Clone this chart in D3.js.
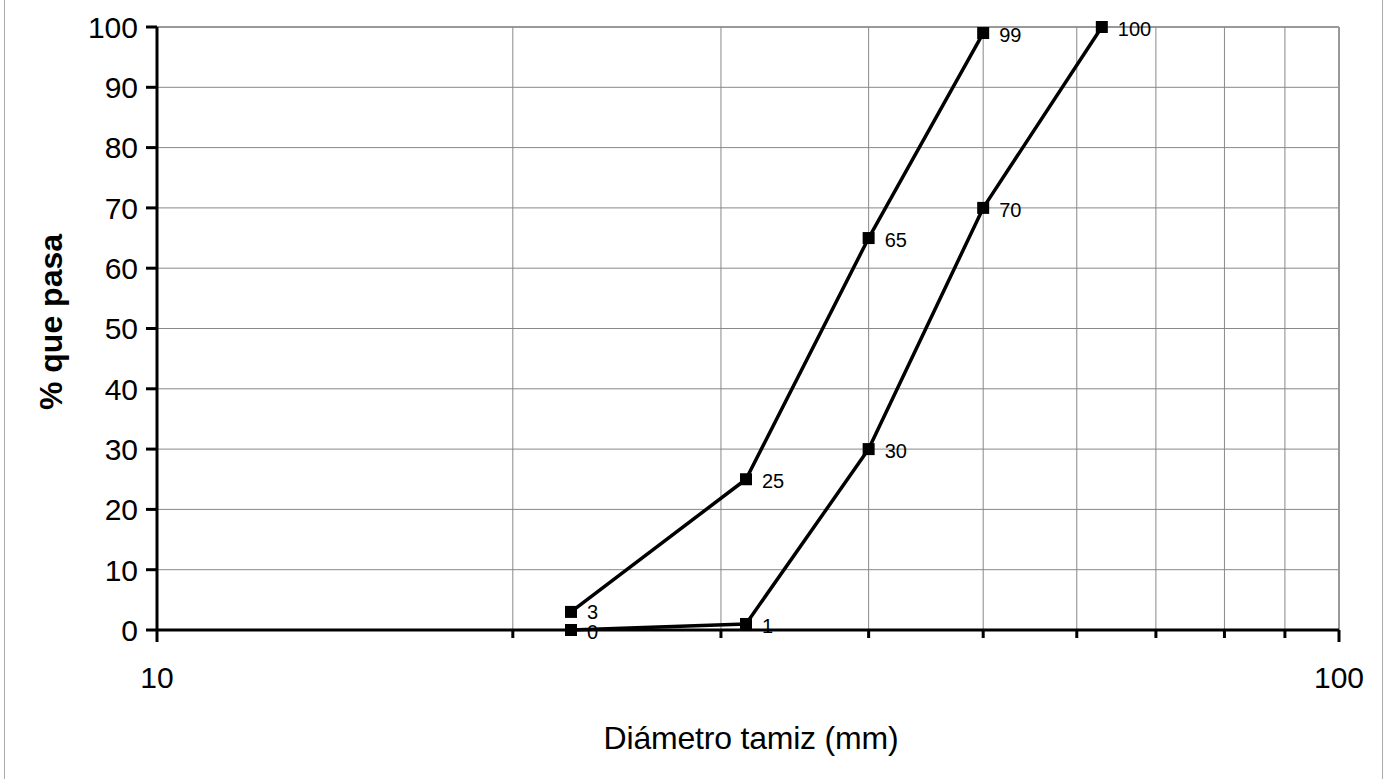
<!DOCTYPE html>
<html>
<head>
<meta charset="utf-8">
<script src="https://cdn.jsdelivr.net/npm/d3@7"></script>
<style>
  body { margin: 0; background: #fff; }
  text { font-family: "Liberation Sans", Arial, sans-serif; fill: #000; }
</style>
</head>
<body>
<div id="chart"></div>
<script>
//Data
const sievesA = [22.4, 31.5, 40, 50];
const passA = [3, 25, 65, 99];
const sievesB = [22.4, 31.5, 40, 50, 63];
const passB = [0, 1, 30, 70, 100];
const xGrid = [20, 30, 40, 50, 60, 70, 80, 90, 100];
const xTickLabels = [10, 100];
const yTicks = [0, 10, 20, 30, 40, 50, 60, 70, 80, 90, 100];

//Visual
const width = 1387;
const height = 779;
const plotLeft = 157, plotRight = 1339, plotTop = 27, plotBottom = 630;

const svg = d3.select('#chart')
  .append('svg')
  .attr('width', width)
  .attr('height', height);

// outer frame
svg.append('rect')
  .attr('x', 4.5).attr('y', -2)
  .attr('width', 1378).attr('height', height + 4)
  .attr('fill', 'none')
  .attr('stroke', '#aaa');

const x = d3.scaleLog().domain([10, 100]).range([plotLeft, plotRight]);
const y = d3.scaleLinear().domain([0, 100]).range([plotBottom, plotTop]);

// grid
svg.selectAll('line.hgrid')
  .data(yTicks.filter(d => d > 0))
  .enter().append('line')
  .attr('x1', plotLeft).attr('x2', plotRight)
  .attr('y1', d => y(d)).attr('y2', d => y(d))
  .attr('stroke', d => d === 100 ? '#999' : '#888')
  .attr('stroke-width', d => d === 100 ? 2 : 1);

svg.selectAll('line.vgrid')
  .data(xGrid)
  .enter().append('line')
  .attr('x1', d => x(d)).attr('x2', d => x(d))
  .attr('y1', plotTop).attr('y2', plotBottom)
  .attr('stroke', d => d === 100 ? '#999' : '#888')
  .attr('stroke-width', d => d === 100 ? 2 : 1);

// axes
svg.append('line')
  .attr('x1', plotLeft).attr('x2', plotRight)
  .attr('y1', plotBottom).attr('y2', plotBottom)
  .attr('stroke', '#000').attr('stroke-width', 3);
svg.append('line')
  .attr('x1', plotLeft).attr('x2', plotLeft)
  .attr('y1', plotTop).attr('y2', plotBottom)
  .attr('stroke', '#000').attr('stroke-width', 3);

// y ticks
svg.selectAll('line.ytick')
  .data(yTicks)
  .enter().append('line')
  .attr('x1', plotLeft - 11).attr('x2', plotLeft)
  .attr('y1', d => y(d)).attr('y2', d => y(d))
  .attr('stroke', '#000').attr('stroke-width', 3);

svg.selectAll('text.ylab')
  .data(yTicks)
  .enter().append('text')
  .text(d => d)
  .attr('x', plotLeft - 19)
  .attr('y', d => y(d))
  .attr('dy', '0.36em')
  .attr('text-anchor', 'end')
  .style('font-size', '30px');

// x ticks
svg.selectAll('line.xtick')
  .data([10].concat(xGrid))
  .enter().append('line')
  .attr('x1', d => x(d)).attr('x2', d => x(d))
  .attr('y1', plotBottom)
  .attr('y2', d => (d === 10 || d === 100) ? plotBottom + 12 : plotBottom + 8)
  .attr('stroke', '#000').attr('stroke-width', 3);

svg.selectAll('text.xlab')
  .data(xTickLabels)
  .enter().append('text')
  .text(d => d)
  .attr('x', d => x(d))
  .attr('y', 677)
  .attr('dy', '0.36em')
  .attr('text-anchor', 'middle')
  .style('font-size', '30px');

// axis titles
svg.append('text')
  .text('Diámetro tamiz (mm)')
  .attr('x', 751).attr('y', 737)
  .attr('dy', '0.36em')
  .attr('text-anchor', 'middle')
  .style('font-size', '32px')
  .style('letter-spacing', '-0.2px');

svg.append('text')
  .text('% que pasa')
  .attr('transform', 'translate(50,322) rotate(-90)')
  .attr('dy', '0.36em')
  .attr('text-anchor', 'middle')
  .style('font-size', '32px')
  .style('font-weight', 'bold');

// series
const line = d3.line().x(d => x(d[0])).y(d => y(d[1]));
const series = [d3.zip(sievesA, passA), d3.zip(sievesB, passB)];

series.forEach(pts => {
  svg.append('path')
    .datum(pts)
    .attr('d', line)
    .attr('fill', 'none')
    .attr('stroke', '#000')
    .attr('stroke-width', 3.5)
    .attr('stroke-linejoin', 'round');

  svg.append('g').selectAll('rect')
    .data(pts)
    .enter().append('rect')
    .attr('x', d => x(d[0]) - 6)
    .attr('y', d => y(d[1]) - 6)
    .attr('width', 12).attr('height', 12)
    .attr('fill', '#000');

  svg.append('g').selectAll('text')
    .data(pts)
    .enter().append('text')
    .text(d => d[1])
    .attr('x', d => x(d[0]) + 16)
    .attr('y', d => y(d[1]) + (d[1] === 3 ? 0 : 2))
    .attr('dy', '0.36em')
    .style('font-size', '20px');
});
</script>
</body>
</html>
